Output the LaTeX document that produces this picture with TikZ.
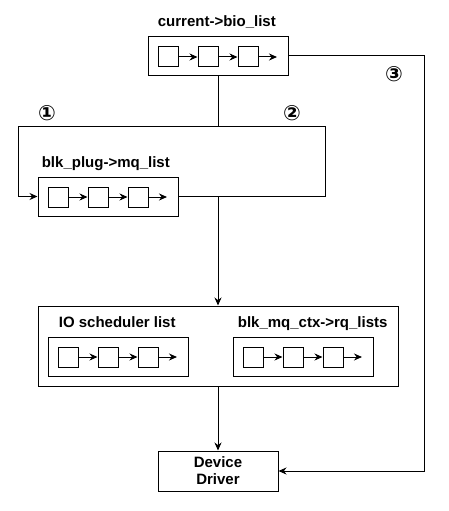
\documentclass[tikz,border=0pt]{standalone}
\usepackage{fontspec}
\setmainfont{Liberation Sans}
\setsansfont{Liberation Sans}
\newfontfamily\circfont{DejaVu Sans}
\usetikzlibrary{arrows.meta}

\begin{document}
\begin{tikzpicture}[>={Stealth[length=8pt,width=7pt]},x=1pt,y=-1pt,
  line width=1pt,
  font=\sffamily\bfseries\fontsize{15}{17}\selectfont,
  listbox/.style={draw,minimum width=140pt,minimum height=39pt,inner sep=0pt},
  item/.style={draw,minimum size=20pt,inner sep=0pt},
  stepnum/.style={font=\circfont\bfseries\fontsize{21}{24}\selectfont,inner sep=0pt}]

  \useasboundingbox (0,0) rectangle (449,511);

  % --- current->bio_list ---
  \node[listbox] (bio) at (218,56) {};
  \node[anchor=base west] (biolbl) at (154,26.5) {current->bio\_list};
  \foreach \i/\x in {1/168,2/208,3/248} \node[item] (bio\i) at (\x,57) {};
  \coordinate (bio-end) at (277,57);

  % --- blk_plug->mq_list ---
  \node[listbox] (mq) at (108,196.5) {};
  \node[anchor=base west] (mqlbl) at (38,167) {blk\_plug->mq\_list};
  \foreach \i/\x in {1/58,2/98,3/138} \node[item] (mq\i) at (\x,197) {};
  \coordinate (mq-end) at (167,197);

  % --- scheduler + ctx lists ---
  \node[draw,minimum width=360pt,minimum height=80pt] (sched) at (218,346) {};
  \node[anchor=base west] (iolbl) at (55,327) {IO scheduler list};
  \node[anchor=base west] (rqlbl) at (234,327) {blk\_mq\_ctx->rq\_lists};
  \node[listbox] (io) at (118,356.5) {};
  \node[listbox] (rq) at (303,356.5) {};
  \foreach \i/\x in {1/68,2/108,3/148} \node[item] (io\i) at (\x,357) {};
  \foreach \i/\x in {1/253,2/293,3/333} \node[item] (rq\i) at (\x,357) {};
  \coordinate (io-end) at (177,357);
  \coordinate (rq-end) at (362,357);

  % --- list links ---
  \foreach \l in {bio,mq,io,rq} {
    \draw[->] (\l1) -- (\l2);
    \draw[->] (\l2) -- (\l3);
    \draw[->] (\l3) -- (\l-end);
  }

  % --- driver ---
  \node[draw,minimum width=120pt,minimum height=40pt,align=center,inner sep=0pt]
        (drv) at (218,471) {Device\\Driver};

  % --- paths ---
  \coordinate (jtop) at (218,126.5);
  \coordinate (loopL) at (18,126.5);
  \coordinate (loopR) at (325,126.5);
  \coordinate (bypass) at (424,471);
  \draw (bio) -- (jtop);
  \draw[->] (jtop) -- (loopL) |- (mq);
  \draw (jtop) -- (loopR) |- (mq);
  \draw[->] (mq.east -| jtop) -- (sched);
  \draw[->] (sched) -- (drv);
  \draw[->] (bio) -| (bypass) -- (drv);

  % --- step numbers ---
  \node[stepnum] (n1) at (47,113) {①};
  \node[stepnum] (n2) at (292,113) {②};
  \node[stepnum] (n3) at (394,74) {③};

\end{tikzpicture}
\end{document}
